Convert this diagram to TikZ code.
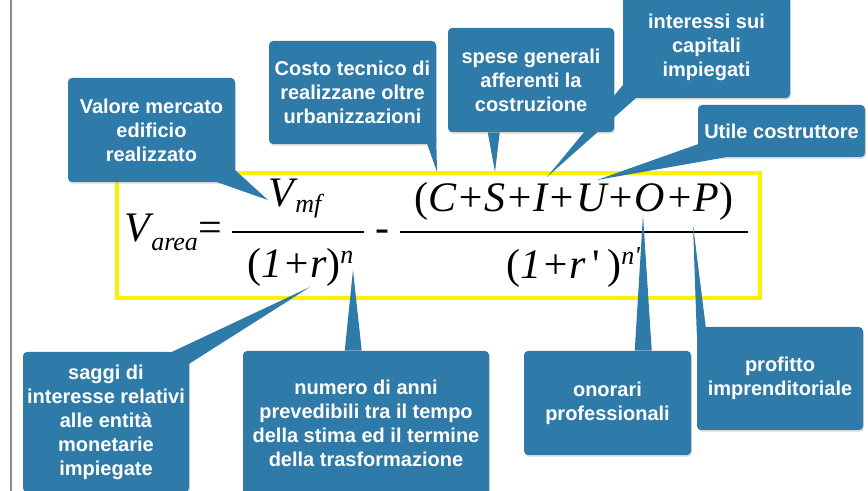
\documentclass[tikz,border=0pt]{standalone}
\usepackage{fontspec}
\setmainfont{Liberation Sans}
\newfontfamily\fmlafont{Liberation Serif}
\usetikzlibrary{calc,shadows}
\definecolor{callblue}{RGB}{46,122,168}
\definecolor{hiyellow}{RGB}{250,242,0}
\newcommand{\fmlasize}{\fontsize{31.5}{31.5}\selectfont}
\newcommand{\subsize}{\fontsize{19.5}{19.5}\selectfont}
\begin{document}
\begin{tikzpicture}[x=0.75pt, y=-0.75pt,
  bubble/.style={rectangle, rounded corners=3pt, fill=callblue, text=white, align=center, inner sep=0pt,
    font=\bfseries\fontsize{15}{18}\selectfont, drop shadow={opacity=.3, shadow xshift=.6pt, shadow yshift=-1.2pt}},
  bw/.style={minimum width=#1*0.75pt},
  bh/.style={minimum height=#1*0.75pt},
  tail/.style={fill=callblue},
  fmla/.style={anchor=base west, inner sep=0pt, font=\fmlafont\fmlasize\itshape},
  fsub/.style={fmla, font=\fmlafont\subsize\itshape},
  fbar/.style={line width=1.1pt}]
\useasboundingbox (0,0) rectangle (868,491);
\fill[white] (0,0) rectangle (868,491);
\draw[line width=1pt, black!45] (11,0) -- (11,491);
\draw[hiyellow, line width=3pt] (117,173) rectangle (760,298);
% the formula
\node[fmla] (vV) at (124,242) {V};
\node[fsub] (varea) at (151,251) {area};
\node[fmla, font=\fmlafont\fmlasize] (eq) at (198,242) {=};
\node[fmla] (vmf) at (268,207) {V};
\node[fsub] (mf) at (295,213) {mf};
\draw[fbar] (232,232) -- (364,232);
\node[fmla] (den1) at (247,278) {{\upshape(}1+r{\upshape)}};
\node[fsub] (n1) at (340,264) {n};
\node[fmla, font=\fmlafont\fmlasize] (minus) at (375,242) {-};
\node[fmla] (num) at (414,212) {{\upshape(}C+S+I+U+O+P{\upshape)}};
\draw[fbar] (400,232) -- (748,232);
\node[fmla] (den2) at (506,279) {{\upshape(}1+r\,{\upshape\textquotesingle\,)}};
\node[fsub] (n2) at (621,265) {n\textquotesingle};
% callout boxes
\node[bubble, bw=167, bh=104] (valore) at (151.5,130) {Valore mercato\\edificio\\realizzato};
\node[bubble, bw=167, bh=103] (costo) at (352.5,92.5) {Costo tecnico di\\realizzane oltre\\urbanizzazioni};
\node[bubble, bw=166, bh=104] (spese) at (531,80) {spese generali\\afferenti la\\costruzione};
\node[bubble, bw=167, bh=102] (interessi) at (706.5,47) {interessi sui\\capitali\\impiegati};
\node[bubble, bw=167, bh=52] (utile) at (781.5,131) {Utile costruttore};
\node[bubble, bw=166, bh=140] (saggi) at (106,422) {saggi di\\interesse relativi\\alle entità\\monetarie\\impiegate};
\node[bubble, bw=246, bh=144] (numero) at (366,423) {numero di anni\\prevedibili tra il tempo\\della stima ed il termine\\della trasformazione};
\node[bubble, bw=167, bh=104] (onorari) at (607.5,403) {onorari\\professionali};
\node[bubble, bw=166, bh=103] (profitto) at (780,378.5) {profitto\\imprenditoriale};
% tails: box, anchor, two offsets from it, tip
\foreach \nm/\anc/\ax/\ay/\bx/\by/\tx/\ty in {
  valore/south east/-18/0/0/-12/268/200,
  costo/south east/-9/0/0/-5/437/172,
  spese/south west/40/0/52/0/495/172,
  interessi/south west/0/-13/13/0/547/177,
  utile/south west/0/-13/28/0/597/180,
  saggi/north east/-17/0/0/12/310/287,
  numero/north west/102/0/119/0/353/270,
  onorari/north west/111/0/128/0/643/215,
  profitto/north west/0/6/9/0/693/225
} {
  \coordinate (t-\nm) at (\tx,\ty);
  \fill[tail] ($(\nm.\anc)+(\ax,\ay)$) -- (t-\nm) -- ($(\nm.\anc)+(\bx,\by)$) -- cycle;
}
\end{tikzpicture}
\end{document}
